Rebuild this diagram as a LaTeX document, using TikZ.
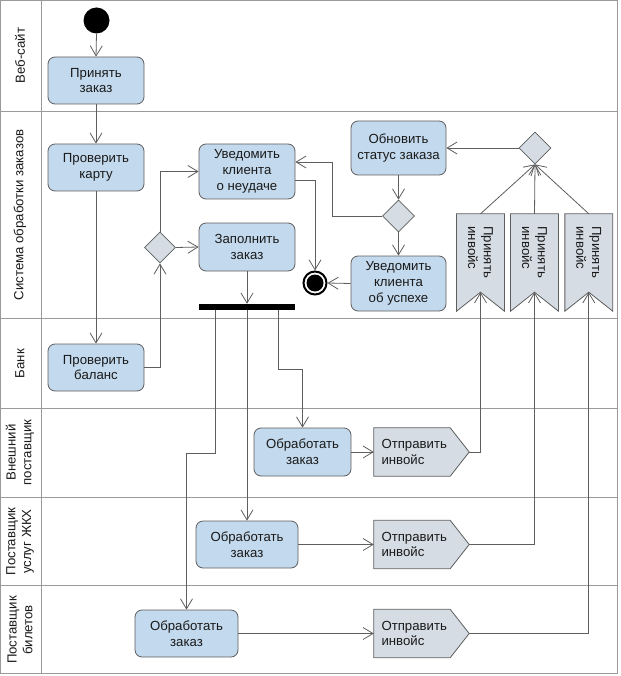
\documentclass[tikz,border=0pt]{standalone}
\usepackage{fontspec}
\setmainfont{Liberation Sans}
\usetikzlibrary{arrows.meta,shapes.geometric,calc}
\definecolor{actfill}{HTML}{C3D9ED}
\definecolor{grfill}{HTML}{D5DCE4}
\definecolor{edgec}{HTML}{5E5E5E}
\definecolor{lanec}{HTML}{9A9A9A}
\definecolor{txtc}{HTML}{1A1A1A}
\begin{document}
\begin{tikzpicture}[x=1pt,y=-1pt,
  every node/.style={font=\fontsize{13.2}{15.7}\selectfont, inner sep=0pt, text=txtc},
  action/.style={draw=edgec, fill=actfill, rounded corners=7pt, align=center, line width=0.8pt},
  dec/.style={diamond, draw=edgec, fill=grfill, minimum width=31pt, minimum height=31pt, line width=0.8pt},
  grshape/.style={draw=edgec, fill=grfill, line width=0.8pt},
  arr/.style={draw=edgec, line width=0.8pt, -{Straight Barb[length=10pt,width=12pt]}},
  lanel/.style={rotate=90, align=center},
  lanes/.style={draw=lanec, line width=1pt}
]
\useasboundingbox (0,0) rectangle (620,676);
% lanes
\draw[lanes] (0.5,0.5) rectangle (617.5,673.5);
\draw[lanes] (41,0.5) -- (41,673.5);
\foreach \yy in {111.5,318.5,408,497,585.5}{\draw[lanes] (0.5,\yy) -- (617.5,\yy);}
\node[lanel] (L1) at (20,55.5) {Веб-сайт};
\node[lanel] (L2) at (20,215) {Система обработки заказов};
\node[lanel] (L3) at (20,363.5) {Банк};
\node[lanel] (L4) at (20,452.5) {Внешний\\поставщик};
\node[lanel] (L5) at (20,541.5) {Поставщик\\услуг ЖКХ};
\node[lanel] (L6) at (20,630) {Поставщик\\билетов};

% nodes
\node[circle, fill=black, minimum size=26pt] (start) at (96.5,20.5) {};
\node[action, minimum width=96pt, minimum height=47pt] (a1) at (96,80.5) {Принять\\заказ};
\node[action, minimum width=96pt, minimum height=47pt] (a2) at (96,167.5) {Проверить\\карту};
\node[action, minimum width=96pt, minimum height=47pt] (a3) at (96,367.5) {Проверить\\баланс};
\node[dec] (d1) at (160,247.5) {};
\node[action, minimum width=96pt, minimum height=55pt] (a4) at (247,171.5) {Уведомить\\клиента\\о неудаче};
\node[action, minimum width=96pt, minimum height=48pt] (a5) at (247,247) {Заполнить\\заказ};
\node[rectangle, fill=black, minimum width=96pt, minimum height=6pt] (fork) at (247,307) {};
\node[circle, draw=black, line width=2pt, fill=white, minimum size=23pt,
  path picture={\fill[black] (path picture bounding box.center) circle (8.5pt);}] (fin) at (315,283) {};
\node[action, minimum width=95pt, minimum height=54pt] (a6) at (398.5,148) {Обновить\\статус заказа};
\node[dec, minimum width=32pt, minimum height=32pt] (d2) at (535,148) {};
\node[dec, minimum width=32pt, minimum height=32pt] (d3) at (398.5,216) {};
\node[action, minimum width=95pt, minimum height=55pt] (a7) at (398.5,283.5) {Уведомить\\клиента\\об успехе};

% banners (accept event)
\foreach \n/\xx in {b1/480.5,b2/534.5,b3/588.8}{
  \node[rectangle, minimum width=47.5pt, minimum height=97pt] (\n) at (\xx,262.5) {};
  \draw[grshape] (\n.north west) -- (\n.north east) -- (\n.south east) -- ($(\n.south)+(0,-19)$) -- (\n.south west) -- cycle;
  \coordinate (\n n) at ($(\n.south)+(0,-19)$);
  \node[rotate=-90, text width=72pt, align=left] (\n t) at (\n) {Принять\\инвойс};
}

% process and send
\node[action, minimum width=97pt, minimum height=48pt] (p1) at (302.5,452) {Обработать\\заказ};
\node[action, minimum width=102pt, minimum height=47pt] (p2) at (247,544.5) {Обработать\\заказ};
\node[action, minimum width=103pt, minimum height=47pt] (p3) at (186.5,633.5) {Обработать\\заказ};
\foreach \n/\yy in {s1/452,s2/544.5,s3/633.5}{
  \node[rectangle, minimum width=95pt, minimum height=48pt] (\n) at (421.5,\yy) {};
  \draw[grshape] (\n.north west) -- ([xshift=-19pt]\n.north east) -- (\n.east) -- ([xshift=-19pt]\n.south east) -- (\n.south west) -- cycle;
  \node[text width=80pt, align=left] (\n t) at (\n) {Отправить\\инвойс};
}

% connectors
\draw[arr] (start.south) -- (a1.north);
\draw[arr] (a1.south) -- (a2.north);
\draw[arr] (a2.south) -- (a3.north);
\draw[arr] (a3.east) -| (d1.south);
\draw[arr] (d1.north) |- (a4.west);
\draw[arr] (d1.east) -- (a5.west);
\draw[arr] (a5.south) -- (fork.north);
\draw[arr] ([xshift=17pt]fork.south west) -- ++(0,143) -| (p3.north);
\draw[arr] (fork.south) -- (p2.north);
\draw[arr] ([xshift=80pt]fork.south west) -- ++(0,59) -| (p1.north);
\draw[arr] (p1.east) -- (s1.west);
\draw[arr] (p2.east) -- (s2.west);
\draw[arr] (p3.east) -- (s3.west);
\draw[arr] (s1.east) -| (b1n);
\draw[arr] (s2.east) -| (b2n);
\draw[arr] (s3.east) -| (b3n);
\draw[arr] (b1.north) -- (d2.south);
\draw[arr] (b2.north) -- (d2.south);
\draw[arr] (b3.north) -- (d2.south);
\draw[arr] (d2.west) -- (a6.east);
\draw[arr] (a6.south) -- (d3.north);
\draw[arr] (d3.south) -- (a7.north);
\draw[arr] (d3.west) -- ++(-49.5,0) |- ([yshift=9.5pt]a4.east);
\draw[arr] ([yshift=-9pt]a4.east) -| (fin.north);
\draw[arr] (a7.west) -- (fin.east);
\end{tikzpicture}
\end{document}
